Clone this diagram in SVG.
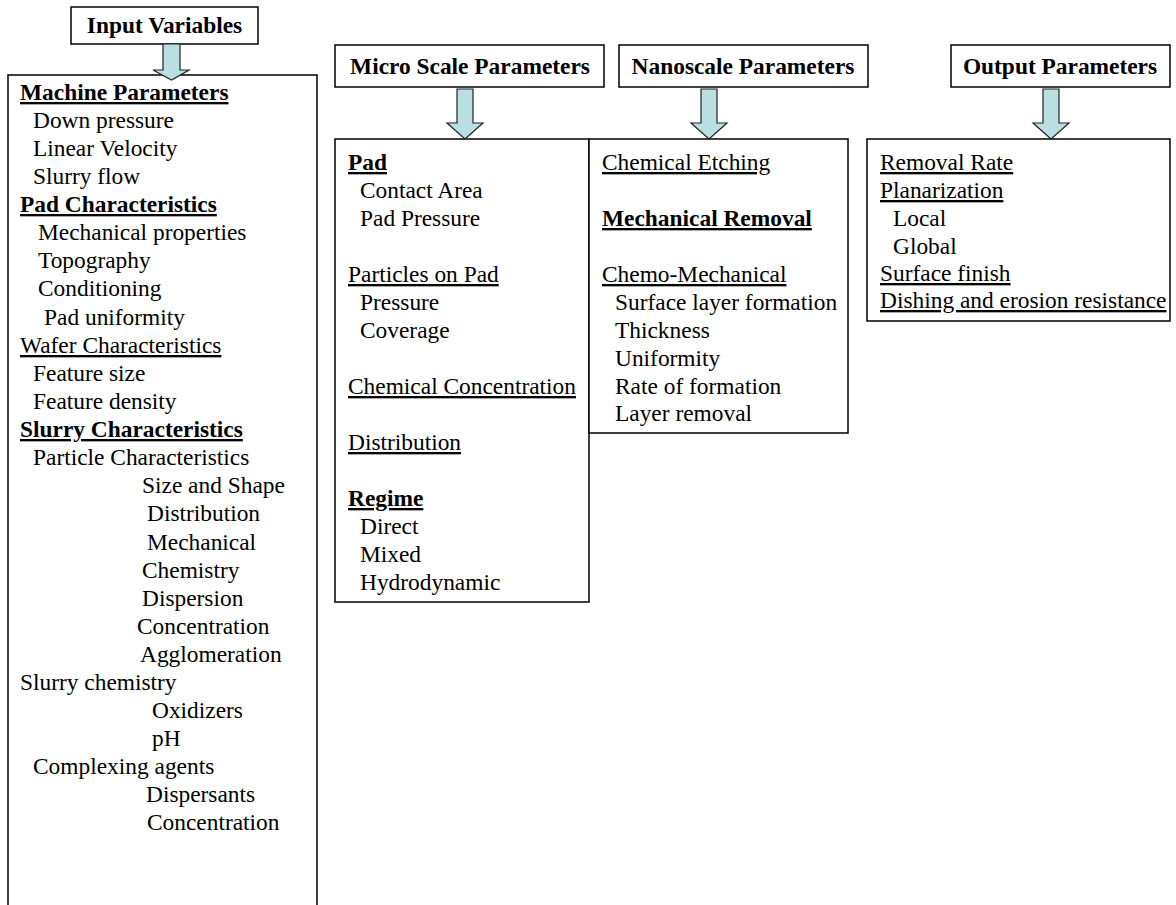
<svg xmlns="http://www.w3.org/2000/svg" width="1176" height="905" viewBox="0 0 1176 905">
<style>
.box{fill:#fff;stroke:#000;stroke-width:1.5}
.arr{fill:#b9dfe3;stroke:#222;stroke-width:1.2}
text{font-family:"Liberation Serif","Times New Roman",serif;font-size:23.4px;fill:#000}
.b{font-weight:bold}
.u{text-decoration:underline}
.h{font-weight:bold;text-anchor:middle}
</style>
<rect width="1176" height="905" fill="#fff"/>
<g id="input-header">
<rect class="box" x="71" y="7" width="187" height="37"/>
<text class="h" x="164.5" y="33">Input Variables</text>
</g>
<g id="input-list">
<rect class="box" x="8" y="75" width="309" height="850"/>
<text class="b u" x="20" y="100">Machine Parameters</text>
<text x="33" y="128">Down pressure</text>
<text x="33" y="156">Linear Velocity</text>
<text x="33" y="184">Slurry flow</text>
<text class="b u" x="20" y="212">Pad Characteristics</text>
<text x="38" y="240">Mechanical properties</text>
<text x="38" y="268">Topography</text>
<text x="38" y="296">Conditioning</text>
<text x="44" y="325">Pad uniformity</text>
<text class="u" x="20" y="353">Wafer Characteristics</text>
<text x="33" y="381">Feature size</text>
<text x="33" y="409">Feature density</text>
<text class="b u" x="20" y="437">Slurry Characteristics</text>
<text x="33" y="465">Particle Characteristics</text>
<text x="142" y="493">Size and Shape</text>
<text x="147" y="521">Distribution</text>
<text x="147" y="550">Mechanical</text>
<text x="142" y="578">Chemistry</text>
<text x="142" y="606">Dispersion</text>
<text x="137" y="634">Concentration</text>
<text x="140" y="662">Agglomeration</text>
<text x="20" y="690">Slurry chemistry</text>
<text x="152" y="718">Oxidizers</text>
<text x="152" y="746">pH</text>
<text x="33" y="774">Complexing agents</text>
<text x="146" y="802">Dispersants</text>
<text x="147" y="830">Concentration</text>
</g>
<g id="micro-header">
<rect class="box" x="335" y="45" width="269" height="42"/>
<text class="h" x="470" y="74">Micro Scale Parameters</text>
</g>
<g id="nano-header">
<rect class="box" x="619" y="45" width="249" height="42"/>
<text class="h" x="743" y="74">Nanoscale Parameters</text>
</g>
<g id="output-header">
<rect class="box" x="951" y="45" width="219" height="42"/>
<text class="h" x="1060" y="74">Output Parameters</text>
</g>
<g id="micro-list">
<rect class="box" x="335" y="139" width="254" height="463"/>
<text class="b u" x="348" y="170">Pad</text>
<text x="360" y="198">Contact Area</text>
<text x="360" y="226">Pad Pressure</text>
<text class="u" x="348" y="282">Particles on Pad</text>
<text x="360" y="310">Pressure</text>
<text x="360" y="338">Coverage</text>
<text class="u" x="348" y="394">Chemical Concentration</text>
<text class="u" x="348" y="450">Distribution</text>
<text class="b u" x="348" y="506">Regime</text>
<text x="360" y="534">Direct</text>
<text x="360" y="562">Mixed</text>
<text x="360" y="590">Hydrodynamic</text>
</g>
<g id="nano-list">
<rect class="box" x="589" y="139" width="259" height="294"/>
<text class="u" x="602" y="170">Chemical Etching</text>
<text class="b u" x="602" y="226">Mechanical Removal</text>
<text class="u" x="602" y="282">Chemo-Mechanical</text>
<text x="615" y="310">Surface layer formation</text>
<text x="615" y="338">Thickness</text>
<text x="615" y="366">Uniformity</text>
<text x="615" y="394">Rate of formation</text>
<text x="615" y="421">Layer removal</text>
</g>
<g id="output-list">
<rect class="box" x="867" y="139" width="303" height="182"/>
<text class="u" x="880" y="170">Removal Rate</text>
<text class="u" x="880" y="198">Planarization</text>
<text x="893" y="226">Local</text>
<text x="893" y="254">Global</text>
<text class="u" x="880" y="281">Surface finish</text>
<text class="u" x="880" y="308">Dishing and erosion resistance</text>
</g>
<g id="connectors">
<path class="arr" d="M163,44 H180 V70 H189 L171.5,80 L153,70 H163 Z"/>
<path class="arr" d="M457,89 H473 V123 H483 L465,139 L447,123 H457 Z"/>
<path class="arr" d="M701,89 H717 V123 H727 L709,139 L691,123 H701 Z"/>
<path class="arr" d="M1043,89 H1059 V123 H1069 L1051,139 L1033,123 H1043 Z"/>
</g>
</svg>
